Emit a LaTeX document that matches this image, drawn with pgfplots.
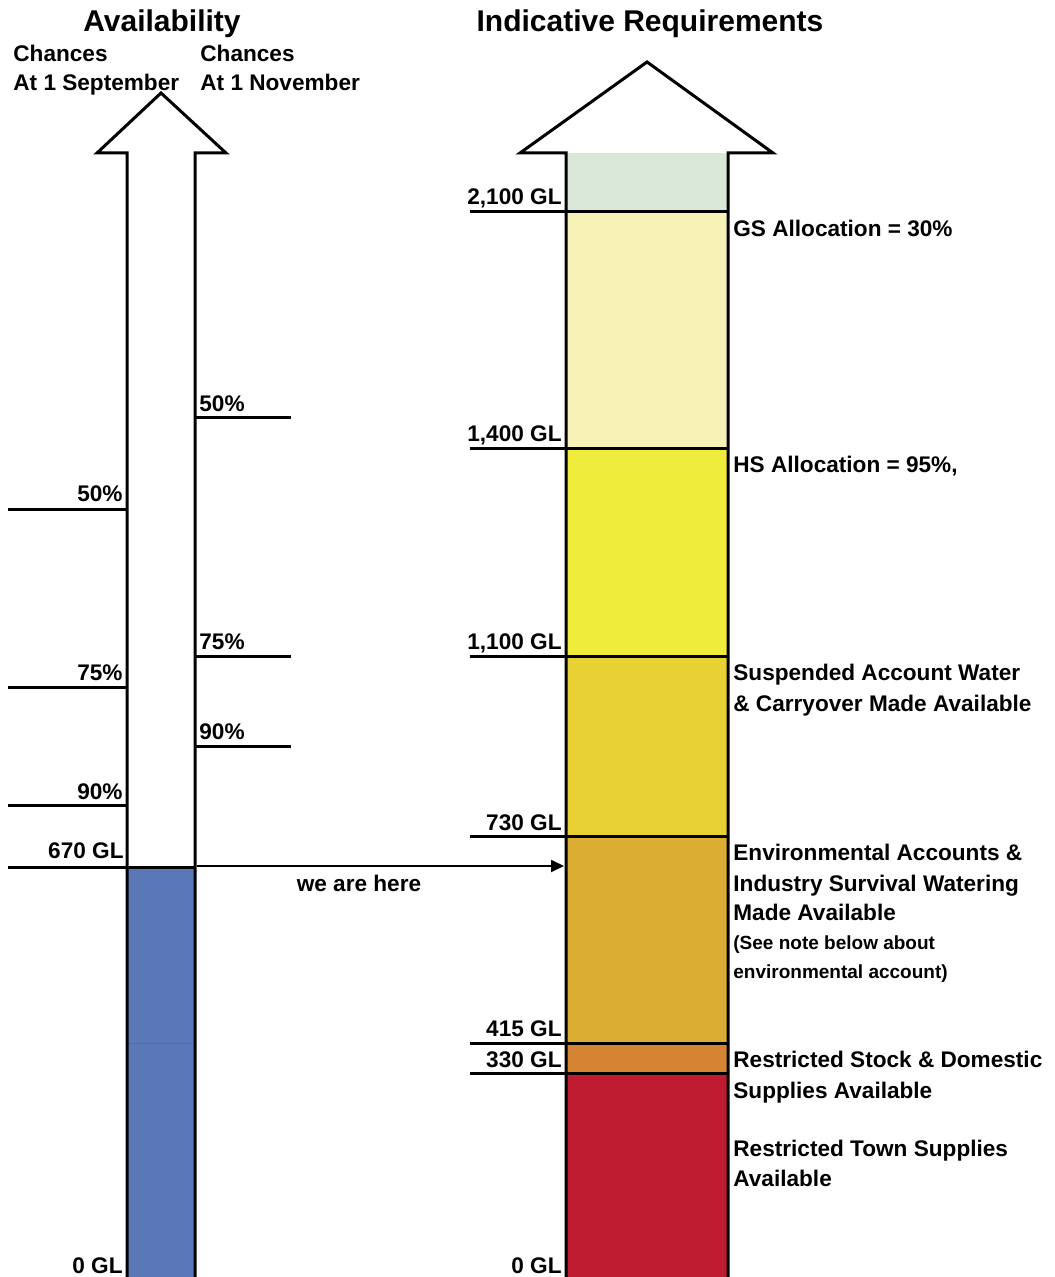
\documentclass[border=0pt]{standalone}
\usepackage{fontspec}
\setmainfont{Liberation Sans}
\usepackage{pgfplots}
\pgfplotsset{compat=1.18}
\usetikzlibrary{arrows.meta}

\definecolor{cblue}{HTML}{5A77B8}
\definecolor{cgreen}{HTML}{D9E8D9}
\definecolor{cpale}{HTML}{F7F3B6}
\definecolor{cyel}{HTML}{F0EC3C}
\definecolor{cgold}{HTML}{E8D233}
\definecolor{cdgold}{HTML}{DBAD33}
\definecolor{corange}{HTML}{D58433}
\definecolor{cred}{HTML}{BE1A30}

% label helpers (x, baseline y in pixel units)
\newcommand{\lt}[3]{\node[anchor=base west,inner sep=0pt,font=\fontsize{11.3}{13}\selectfont\bfseries] at (axis cs:#1,#2) {#3};}
\newcommand{\rt}[3]{\node[anchor=base east,inner sep=0pt,font=\fontsize{11.3}{13}\selectfont\bfseries] at (axis cs:#1,#2) {#3};}

\begin{document}
\begin{tikzpicture}
\begin{axis}[
    scale only axis,
    width=527pt, height=638.5pt,
    xmin=0, xmax=1054,
    ymin=0, ymax=1277,
    y dir=reverse,
    axis lines=none,
    clip=false,
]

% --- availability column (blue = 670 GL)
\addplot[fill=cblue, draw=none] coordinates {(127,867)(195,867)(195,1277)(127,1277)} -- cycle;
\addplot[draw=cblue!92!black, line width=0.3pt] coordinates {(128,1043)(194,1043)};

% --- requirement bands
\addplot[fill=cgreen, draw=none]  coordinates {(566,153)(728,153)(728,212)(566,212)} -- cycle;
\addplot[fill=cpale, draw=none]   coordinates {(566,212)(728,212)(728,449)(566,449)} -- cycle;
\addplot[fill=cyel, draw=none]    coordinates {(566,449)(728,449)(728,656)(566,656)} -- cycle;
\addplot[fill=cgold, draw=none]   coordinates {(566,656)(728,656)(728,836)(566,836)} -- cycle;
\addplot[fill=cdgold, draw=none]  coordinates {(566,836)(728,836)(728,1043)(566,1043)} -- cycle;
\addplot[fill=corange, draw=none] coordinates {(566,1043)(728,1043)(728,1073)(566,1073)} -- cycle;
\addplot[fill=cred, draw=none]    coordinates {(566,1073)(728,1073)(728,1277)(566,1277)} -- cycle;

% --- level lines
\addplot[black, line width=1.5pt] coordinates {(8,509)(127,509)};
\addplot[black, line width=1.5pt] coordinates {(8,687)(127,687)};
\addplot[black, line width=1.5pt] coordinates {(8,805)(127,805)};
\addplot[black, line width=1.5pt] coordinates {(8,867)(195,867)};
\addplot[black, line width=1.5pt] coordinates {(195,418)(291,418)};
\addplot[black, line width=1.5pt] coordinates {(195,656)(291,656)};
\addplot[black, line width=1.5pt] coordinates {(195,746)(291,746)};
\addplot[black, line width=1.5pt] coordinates {(470,212)(728,212)};
\addplot[black, line width=1.5pt] coordinates {(470,449)(728,449)};
\addplot[black, line width=1.5pt] coordinates {(470,656)(728,656)};
\addplot[black, line width=1.5pt] coordinates {(470,836)(728,836)};
\addplot[black, line width=1.5pt] coordinates {(470,1043)(728,1043)};
\addplot[black, line width=1.5pt] coordinates {(470,1073)(728,1073)};

% --- we are here arrow
\addplot[black, line width=1pt, -{Triangle[length=6.5pt,width=6pt]}] coordinates {(197,866)(564,866)};

% --- arrow outlines
\addplot[black, line width=1.5pt, line join=miter] coordinates {(127,1277)(127,153)(97,153)(161,93)(226,153)(195,153)(195,1277)};
\addplot[black, line width=1.5pt, line join=miter] coordinates {(566,1277)(566,153)(520,153)(647,62)(773,153)(728,153)(728,1277)};

% --- titles
\node[anchor=base,inner sep=0pt,font=\fontsize{15}{17}\selectfont\bfseries] at (axis cs:162,31.5) {Availability};
\node[anchor=base,inner sep=0pt,font=\fontsize{15}{17}\selectfont\bfseries] at (axis cs:650,31.5) {Indicative Requirements};
\lt{13}{62}{Chances}
\lt{13}{91}{At 1 September}
\lt{200}{62}{Chances}
\lt{200}{91}{At 1 November}

% --- availability labels
\rt{123}{502}{50\%}
\rt{123}{680}{75\%}
\rt{123}{799}{90\%}
\rt{124}{858}{670 GL}
\rt{123}{1273}{0 GL}
\lt{199}{412}{50\%}
\lt{199}{649}{75\%}
\lt{199}{739}{90\%}
\node[anchor=base,inner sep=0pt,font=\fontsize{11.3}{13}\selectfont\bfseries] at (axis cs:359,891) {we are here};

% --- requirement labels
\rt{562}{205}{2,100 GL}
\rt{562}{442}{1,400 GL}
\rt{562}{649}{1,100 GL}
\rt{562}{830}{730 GL}
\rt{562}{1036}{415 GL}
\rt{562}{1067}{330 GL}
\rt{562}{1273}{0 GL}

\lt{733}{237}{GS Allocation = 30\%}
\lt{733}{473}{HS Allocation = 95\%,}
\lt{733}{680}{Suspended Account Water}
\lt{733}{711}{\& Carryover Made Available}
\lt{733}{860}{Environmental Accounts \&}
\lt{733}{891}{Industry Survival Watering}
\lt{733}{920}{Made Available}
\node[anchor=base west,inner sep=0pt,font=\fontsize{9.5}{11}\selectfont\bfseries] at (axis cs:733,949) {(See note below about};
\node[anchor=base west,inner sep=0pt,font=\fontsize{9.5}{11}\selectfont\bfseries] at (axis cs:733,978) {environmental account)};
\lt{733}{1067}{Restricted Stock \& Domestic}
\lt{733}{1098}{Supplies Available}
\lt{733}{1156}{Restricted Town Supplies}
\lt{733}{1186}{Available}
\end{axis}
\pgfresetboundingbox
\path[use as bounding box] (current axis.south west) rectangle (current axis.north east);
\end{tikzpicture}
\end{document}
